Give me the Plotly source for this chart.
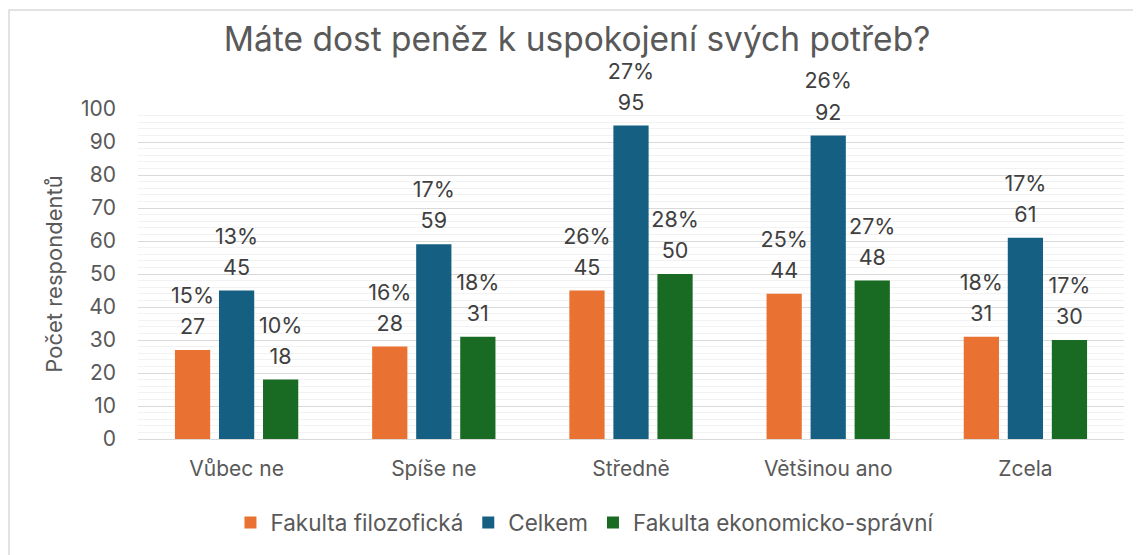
import plotly.graph_objects as go

categories = ["Vůbec ne", "Spíše ne", "Středně", "Většinou ano", "Zcela"]
series_names = ["Fakulta filozofická", "Celkem", "Fakulta ekonomicko-správní"]
ff_counts = [27, 28, 45, 44, 31]
ff_pct = [15, 16, 26, 25, 18]
celkem_counts = [45, 59, 95, 92, 61]
celkem_pct = [13, 17, 27, 26, 17]
fes_counts = [18, 31, 50, 48, 30]
fes_pct = [10, 18, 28, 27, 17]
colors = ["#E97132", "#156082", "#196B24"]

FONT = "Inter, Liberation Sans, sans-serif"
TXT = "#595959"

LBL = "<span style='font-size:21.5px'>%{customdata}%</span><br><br><br><br>" \
      "<span style='font-size:21.5px'>%{y}</span><br>" \
      "<span style='font-size:21.5px'>&nbsp;</span>"

fig = go.Figure()
for name, counts, pct, col in zip(series_names,
                                  [ff_counts, celkem_counts, fes_counts],
                                  [ff_pct, celkem_pct, fes_pct], colors):
    fig.add_trace(go.Bar(
        name=name, x=categories, y=counts, customdata=pct,
        marker=dict(color=col, line=dict(width=0)),
        texttemplate=LBL,
        textposition="outside", cliponaxis=False, constraintext="none",
        textfont=dict(family=FONT, size=6, color="#404040"),
    ))

fig.update_layout(
    width=1141, height=555,
    margin=dict(l=130, r=25, t=101, b=124, autoexpand=False),
    paper_bgcolor="white", plot_bgcolor="white",
    barmode="group", bargap=0.33, bargroupgap=0.2,
    font=dict(family=FONT, color=TXT, size=21),
    title=dict(text="Máte dost peněz k uspokojení svých potřeb?",
               xref="container", x=0.4987, xanchor="center",
               yref="container", y=0.943, yanchor="middle",
               font=dict(family=FONT, size=33.5, color=TXT)),
    legend=dict(orientation="h", x=0.4533, xanchor="center", y=-0.2545,
                yanchor="middle", font=dict(family=FONT, size=22.5, color=TXT),
                traceorder="normal"),
    showlegend=True,
)
fig.update_yaxes(range=[0, 100], dtick=10, showgrid=True, gridcolor="#D9D9D9",
                 gridwidth=1, automargin=False,
                 minor=dict(dtick=2, showgrid=True, gridcolor="#F2F2F2", gridwidth=1),
                 zeroline=False, showline=False, ticks="", ticklabelstandoff=21,
                 tickfont=dict(family=FONT, size=21, color=TXT),
                 title=dict(text="Počet respondentů", standoff=12,
                            font=dict(family=FONT, size=22, color=TXT)))
fig.update_xaxes(showline=True, linecolor="#D9D9D9", linewidth=1, ticks="",
                 automargin=False, ticklabelstandoff=11,
                 tickfont=dict(family=FONT, size=21, color=TXT))

fig.add_shape(type="rect", xref="paper", yref="paper",
              x0=-0.1308, x1=1.2, y0=-0.5, y1=1.3,
              line=dict(color="#D9D9D9", width=1.5), fillcolor="rgba(0,0,0,0)",
              layer="below")

fig.write_html("out.html")
